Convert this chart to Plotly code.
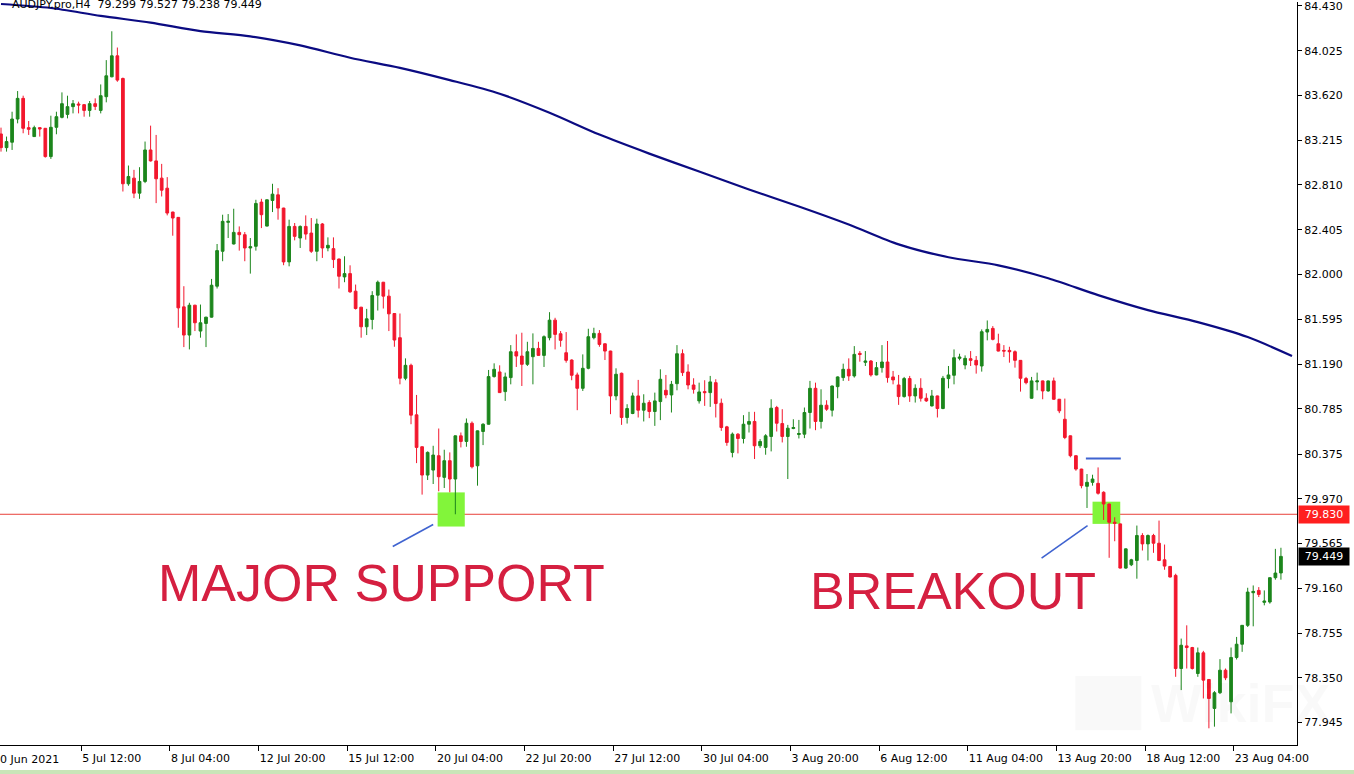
import plotly.graph_objects as go

# ---------------- data ----------------
open_ = [
    83.272, 83.148, 83.197, 83.407, 83.594, 83.329, 83.248, 83.329, 83.323, 83.067,
    83.332, 83.422, 83.449, 83.519, 83.543, 83.537, 83.485, 83.546, 83.485, 83.609,
    83.789, 83.979, 83.774, 82.821, 82.872, 82.736, 82.842, 83.127, 83.028, 82.872,
    82.781, 82.565, 82.517, 81.707, 81.452, 81.722, 81.488, 81.557, 81.614, 81.894,
    82.210, 82.472, 82.276, 82.381, 82.360, 82.240, 82.255, 82.655, 82.438, 82.670,
    82.721, 82.601, 82.114, 82.435, 82.330, 82.435, 82.375, 82.210, 82.457, 82.240,
    82.234, 82.140, 81.978, 82.008, 81.849, 81.704, 81.527, 81.593, 81.813, 81.930,
    81.804, 81.647, 81.428, 81.061, 81.178, 80.730, 80.441, 80.185, 80.230, 80.360,
    80.164, 80.315, 80.149, 80.540, 80.489, 80.654, 80.269, 80.579, 80.645, 81.076,
    81.118, 80.940, 81.067, 81.301, 81.262, 81.187, 81.256, 81.331, 81.268, 81.428,
    81.587, 81.464, 81.292, 81.226, 81.091, 80.970, 81.151, 81.428, 81.467, 81.373,
    81.307, 80.901, 81.106, 80.706, 80.742, 80.901, 80.772, 80.841, 80.760, 80.850,
    80.952, 80.910, 81.012, 81.283, 81.118, 81.000, 80.856, 80.940, 80.931, 81.021,
    80.835, 80.621, 80.390, 80.555, 80.516, 80.645, 80.670, 80.450, 80.435, 80.534,
    80.796, 80.651, 80.534, 80.606, 80.552, 80.555, 80.751, 80.970, 80.670, 80.817,
    80.772, 80.985, 81.067, 81.142, 81.082, 81.286, 81.205, 81.217, 81.091, 81.157,
    81.208, 81.073, 81.000, 80.895, 81.058, 80.901, 80.970, 80.880, 80.811, 80.901,
    80.787, 81.058, 81.088, 81.241, 81.181, 81.238, 81.223, 81.172, 81.479, 81.512,
    81.373, 81.313, 81.313, 81.301, 81.223, 81.058, 80.880, 81.028, 81.037, 80.946,
    81.037, 80.871, 80.690, 80.540, 80.360, 80.239, 80.083, 80.119, 80.110, 80.029,
    79.923, 79.758, 79.743, 79.343, 79.373, 79.412, 79.638, 79.562, 79.638, 79.568,
    79.418, 79.358, 79.277, 78.434, 78.639, 78.624, 78.389, 78.576, 78.335, 78.073,
    78.215, 78.419, 78.133, 78.534, 78.654, 78.825, 79.120, 79.141, 79.033, 79.036,
    79.256, 79.299,
]
high_ = [
    83.329, 83.248, 83.473, 83.660, 83.618, 83.389, 83.347, 83.332, 83.326, 83.437,
    83.473, 83.648, 83.618, 83.579, 83.564, 83.543, 83.570, 83.594, 83.720, 83.940,
    84.201, 84.054, 83.782, 82.986, 82.947, 82.971, 83.203, 83.347, 83.263, 83.001,
    82.881, 82.568, 82.520, 81.894, 81.744, 81.726, 81.728, 81.617, 81.960, 82.276,
    82.541, 82.547, 82.595, 82.435, 82.384, 82.330, 82.676, 82.685, 82.679, 82.821,
    82.781, 82.604, 82.496, 82.466, 82.444, 82.535, 82.511, 82.505, 82.466, 82.336,
    82.336, 82.144, 82.165, 82.083, 81.909, 81.707, 81.689, 81.849, 81.945, 81.933,
    81.864, 81.650, 81.647, 81.241, 81.193, 80.910, 80.444, 80.399, 80.450, 80.606,
    80.414, 80.390, 80.543, 80.570, 80.697, 80.670, 80.588, 80.654, 81.136, 81.196,
    81.178, 81.112, 81.361, 81.458, 81.473, 81.391, 81.467, 81.391, 81.449, 81.659,
    81.608, 81.488, 81.479, 81.232, 81.112, 81.277, 81.509, 81.518, 81.497, 81.376,
    81.310, 81.151, 81.112, 80.826, 80.931, 81.046, 80.916, 80.862, 80.931, 81.142,
    81.091, 81.037, 81.361, 81.322, 81.187, 81.061, 81.021, 81.043, 81.082, 81.052,
    80.877, 80.630, 80.570, 80.564, 80.727, 80.757, 80.757, 80.510, 80.555, 80.871,
    80.811, 80.781, 80.639, 80.690, 80.684, 80.796, 81.037, 81.021, 80.961, 80.862,
    80.994, 81.078, 81.193, 81.241, 81.352, 81.307, 81.307, 81.226, 81.208, 81.361,
    81.398, 81.127, 81.091, 81.073, 81.082, 81.006, 81.061, 80.925, 80.955, 80.904,
    81.082, 81.172, 81.322, 81.283, 81.268, 81.307, 81.262, 81.503, 81.584, 81.533,
    81.464, 81.361, 81.346, 81.313, 81.226, 81.073, 81.073, 81.112, 81.040, 81.040,
    81.067, 80.874, 80.877, 80.543, 80.363, 80.242, 80.194, 80.188, 80.254, 80.038,
    79.926, 79.803, 79.746, 79.520, 79.427, 79.728, 79.659, 79.647, 79.653, 79.773,
    79.556, 79.361, 79.292, 78.705, 78.825, 78.630, 78.624, 78.594, 78.338, 78.230,
    78.519, 78.434, 78.624, 78.720, 78.828, 79.165, 79.186, 79.171, 79.141, 79.258,
    79.517, 79.527,
]
low_ = [
    83.112, 83.112, 83.127, 83.368, 83.278, 83.263, 83.245, 83.248, 83.058, 83.046,
    83.269, 83.413, 83.413, 83.458, 83.458, 83.428, 83.428, 83.488, 83.458, 83.558,
    83.785, 83.744, 82.751, 82.803, 82.691, 82.685, 82.827, 83.022, 82.646, 82.706,
    82.535, 82.351, 81.518, 81.343, 81.322, 81.488, 81.428, 81.343, 81.610, 81.873,
    82.120, 82.330, 82.272, 82.216, 82.120, 82.008, 82.216, 82.420, 82.435, 82.565,
    82.496, 82.084, 82.074, 82.309, 82.240, 82.315, 82.195, 82.120, 82.150, 82.210,
    82.059, 81.873, 81.930, 81.834, 81.683, 81.428, 81.452, 81.503, 81.674, 81.692,
    81.488, 81.346, 81.006, 81.043, 80.645, 80.293, 80.008, 80.140, 80.104, 80.038,
    80.068, 80.029, 79.830, 80.435, 80.441, 80.245, 80.089, 80.456, 80.642, 81.067,
    80.928, 80.856, 81.006, 81.163, 80.991, 81.172, 81.006, 81.265, 81.163, 81.404,
    81.322, 81.346, 81.202, 81.043, 80.772, 80.946, 81.142, 81.413, 81.346, 81.226,
    80.736, 80.862, 80.639, 80.651, 80.736, 80.706, 80.670, 80.700, 80.630, 80.682,
    80.880, 80.751, 80.952, 81.082, 80.961, 80.922, 80.832, 80.811, 80.802, 80.706,
    80.585, 80.450, 80.345, 80.381, 80.471, 80.570, 80.330, 80.429, 80.369, 80.399,
    80.579, 80.480, 80.149, 80.600, 80.516, 80.519, 80.606, 80.591, 80.606, 80.766,
    80.715, 80.880, 81.037, 81.037, 81.067, 81.211, 81.172, 81.076, 81.088, 81.112,
    81.021, 81.006, 80.820, 80.886, 80.847, 80.841, 80.850, 80.847, 80.805, 80.706,
    80.781, 80.970, 81.006, 81.223, 81.142, 81.172, 81.103, 81.121, 81.404, 81.404,
    81.304, 81.253, 81.202, 81.157, 80.940, 81.006, 80.877, 80.952, 80.871, 80.940,
    80.865, 80.745, 80.510, 80.345, 80.224, 80.065, 79.887, 80.089, 80.008, 79.779,
    79.436, 79.586, 79.340, 79.337, 79.361, 79.247, 79.502, 79.412, 79.481, 79.406,
    79.328, 79.259, 78.359, 78.239, 78.434, 78.425, 78.359, 78.163, 77.893, 77.908,
    78.203, 78.329, 78.028, 78.516, 78.585, 78.810, 78.816, 79.081, 79.006, 79.021,
    79.238, 79.238,
]
close_ = [
    83.148, 83.203, 83.407, 83.594, 83.323, 83.314, 83.329, 83.317, 83.067, 83.332,
    83.428, 83.546, 83.519, 83.546, 83.534, 83.485, 83.546, 83.521, 83.618, 83.798,
    83.979, 83.759, 82.821, 82.887, 82.736, 82.842, 83.127, 83.028, 82.866, 82.763,
    82.556, 82.511, 81.698, 81.452, 81.722, 81.563, 81.563, 81.614, 81.903, 82.216,
    82.481, 82.481, 82.381, 82.360, 82.240, 82.252, 82.643, 82.541, 82.676, 82.727,
    82.601, 82.114, 82.435, 82.345, 82.435, 82.366, 82.210, 82.457, 82.240, 82.264,
    82.135, 81.984, 82.008, 81.843, 81.692, 81.527, 81.599, 81.810, 81.930, 81.804,
    81.644, 81.407, 81.061, 81.178, 80.727, 80.435, 80.185, 80.390, 80.366, 80.170,
    80.315, 80.149, 80.540, 80.489, 80.654, 80.260, 80.585, 80.645, 81.076, 81.142,
    80.931, 81.073, 81.301, 81.262, 81.187, 81.301, 81.331, 81.268, 81.437, 81.587,
    81.458, 81.404, 81.223, 81.088, 80.970, 81.151, 81.437, 81.467, 81.367, 81.307,
    80.901, 81.097, 80.706, 80.787, 80.901, 80.772, 80.835, 80.760, 80.856, 81.052,
    80.910, 81.006, 81.283, 81.112, 81.000, 80.961, 80.937, 80.931, 81.028, 80.832,
    80.615, 80.480, 80.555, 80.516, 80.645, 80.670, 80.450, 80.489, 80.540, 80.790,
    80.654, 80.534, 80.609, 80.615, 80.561, 80.751, 80.970, 80.670, 80.817, 80.781,
    80.991, 81.073, 81.142, 81.082, 81.277, 81.277, 81.217, 81.091, 81.157, 81.208,
    81.067, 81.046, 80.895, 81.058, 80.901, 80.970, 80.880, 80.856, 80.901, 80.787,
    81.061, 81.091, 81.247, 81.253, 81.241, 81.223, 81.181, 81.482, 81.503, 81.413,
    81.307, 81.307, 81.301, 81.223, 81.061, 81.021, 81.037, 81.037, 80.946, 81.037,
    80.871, 80.766, 80.525, 80.360, 80.239, 80.089, 80.119, 80.149, 80.020, 79.923,
    79.758, 79.749, 79.343, 79.517, 79.418, 79.638, 79.562, 79.638, 79.568, 79.412,
    79.361, 79.262, 78.434, 78.645, 78.624, 78.434, 78.576, 78.329, 78.163, 78.215,
    78.419, 78.350, 78.534, 78.654, 78.825, 79.126, 79.132, 79.105, 79.045, 79.256,
    79.298, 79.449,
]
bars = list(range(len(open_)))

# moving average, sampled every 9 bars
ma_bar = [0, 9, 18, 27, 36, 45, 54, 63, 72, 81, 90, 99, 108, 117, 126,
          135, 144, 153, 162, 171, 180, 189, 198, 207, 216, 225, 233]
ma_val = [84.448, 84.412, 84.340, 84.279, 84.202, 84.155, 84.073, 83.961, 83.870,
          83.759, 83.636, 83.464, 83.266, 83.094, 82.932, 82.769, 82.616, 82.453,
          82.273, 82.156, 82.083, 81.966, 81.813, 81.677, 81.569, 81.434, 81.262]

date_labels = ["5 Jul 12:00", "8 Jul 04:00", "12 Jul 20:00", "15 Jul 12:00",
               "20 Jul 04:00", "22 Jul 20:00", "27 Jul 12:00", "30 Jul 04:00",
               "3 Aug 20:00", "6 Aug 12:00", "11 Aug 04:00", "13 Aug 20:00",
               "18 Aug 12:00", "23 Aug 04:00"]
first_date_label = "30 Jun 2021"
price_ticks = [84.430, 84.025, 83.620, 83.215, 82.810, 82.405, 82.000, 81.595,
               81.190, 80.785, 80.375, 79.970, 79.565, 79.160, 78.755, 78.350, 77.945]
support_level = 79.830
last_price = 79.449
header = "AUDJPY.pro,H4  79.299 79.527 79.238 79.449"

# ---------------- styling ----------------
GREEN = "#1c861c"
RED = "#f2172d"
LIME = "#82f53a"
BLUE = "#3f63d0"
TEXT_RED = "#d51f40"
FONT = "DejaVu Sans"

tick_pos = [14.5 + 16 * k for k in range(len(date_labels))]

fig = go.Figure()
fig.add_trace(go.Candlestick(
    x=bars, open=open_, high=high_, low=low_, close=close_,
    increasing=dict(line=dict(color=GREEN, width=1), fillcolor=GREEN),
    decreasing=dict(line=dict(color=RED, width=1), fillcolor=RED),
    whiskerwidth=0, showlegend=False, hoverinfo="skip",
))
fig.add_trace(go.Scatter(
    x=ma_bar, y=ma_val, mode="lines",
    line=dict(color="#0b0b82", width=2.2, shape="spline", smoothing=0.8),
    showlegend=False, hoverinfo="skip",
))

shapes = [
    # green highlight boxes
    dict(type="rect", xref="x", yref="y", x0=78.8, x1=83.7, y0=79.719, y1=80.028,
         fillcolor=LIME, line=dict(width=0), layer="below"),
    dict(type="rect", xref="x", yref="y", x0=197.0, x1=202.0, y0=79.743, y1=79.944,
         fillcolor=LIME, line=dict(width=0), layer="below"),
    # support line
    dict(type="line", xref="paper", yref="y", x0=0, x1=1, y0=support_level,
         y1=support_level, line=dict(color="#e8403a", width=1), layer="below"),
    # blue pointer lines
    dict(type="line", xref="x", yref="y", x0=70.7, y0=79.538, x1=78.0, y1=79.737,
         line=dict(color=BLUE, width=1.6)),
    dict(type="line", xref="x", yref="y", x0=187.8, y0=79.433, x1=196.1, y1=79.728,
         line=dict(color=BLUE, width=1.6)),
    dict(type="line", xref="x", yref="y", x0=195.8, y0=80.335, x1=202.1, y1=80.335,
         line=dict(color=BLUE, width=2)),
    # bottom light-green strip
    dict(type="rect", xref="paper", yref="paper", x0=-0.01, x1=1.06, y0=-0.0335, y1=-0.045,
         fillcolor="#c9e5b8", line=dict(width=0)),
    # faint watermark logo
    dict(type="rect", xref="paper", yref="paper", x0=0.829, x1=0.880, y0=0.02, y1=0.093,
         fillcolor="rgba(0,0,0,0.025)", line=dict(width=0)),
]

annotations = [
    dict(text=header, xref="paper", yref="paper", x=0, y=1, xanchor="left",
         yanchor="middle", xshift=10, yshift=-2, showarrow=False,
         font=dict(family=FONT, size=11, color="black")),
    dict(text="MAJOR SUPPORT", xref="x", yref="y", x=68.76, y=79.204,
         xanchor="center", yanchor="middle", showarrow=False,
         font=dict(family="Liberation Sans", size=52, color=TEXT_RED)),
    dict(text="BREAKOUT", xref="x", yref="y", x=171.8, y=79.132,
         xanchor="center", yanchor="middle", showarrow=False,
         font=dict(family="Liberation Sans", size=52, color=TEXT_RED)),
    dict(text=f"{support_level:.3f}", xref="paper", yref="y", x=1, y=support_level,
         xanchor="left", yanchor="middle", xshift=1, showarrow=False, width=46,
         align="center", bgcolor="#ff1f1f", borderpad=2,
         font=dict(family=FONT, size=11, color="white")),
    dict(text=f"{last_price:.3f}", xref="paper", yref="y", x=1, y=last_price,
         xanchor="left", yanchor="middle", xshift=1, showarrow=False, width=46,
         align="center", bgcolor="black", borderpad=2,
         font=dict(family=FONT, size=11, color="white")),
    dict(text=first_date_label, xref="paper", yref="paper", x=0, y=0,
         xanchor="left", yanchor="top", xshift=-9, yshift=-6, showarrow=False,
         font=dict(family=FONT, size=11, color="black")),
    dict(text="<b>WikiFX</b>", xref="paper", yref="paper", x=0.886, y=0.057,
         xanchor="left", yanchor="middle", showarrow=False,
         font=dict(family="Liberation Sans", size=54, color="rgba(0,0,0,0.025)")),
]

fig.update_layout(
    width=1354, height=774,
    margin=dict(l=0, r=57, t=0, b=29),
    paper_bgcolor="white", plot_bgcolor="white",
    shapes=shapes, annotations=annotations,
    showlegend=False,
    xaxis=dict(
        range=[-0.18, 233.9], showgrid=False, zeroline=False,
        showline=True, linecolor="black", linewidth=1,
        ticks="outside", ticklen=5, tickcolor="black",
        tickvals=tick_pos, ticktext=date_labels,
        ticklabelposition="outside right", ticklabelstandoff=3,
        tickfont=dict(family=FONT, size=11, color="black"),
        rangeslider=dict(visible=False), fixedrange=True,
    ),
    yaxis=dict(
        side="right", range=[77.742, 84.466], showgrid=False, zeroline=False,
        showline=True, linecolor="black", linewidth=1,
        ticks="outside", ticklen=4, tickcolor="black",
        tickvals=price_ticks, ticktext=[f"{v:.3f}" for v in price_ticks],
        tickfont=dict(family=FONT, size=11, color="black"),
        ticklabeloverflow="allow",
        fixedrange=True,
    ),
)

fig.write_html(
    "out.html",
    config={"displayModeBar": False},
    post_script="document.body.style.margin='0';document.body.style.overflow='hidden';",
)
